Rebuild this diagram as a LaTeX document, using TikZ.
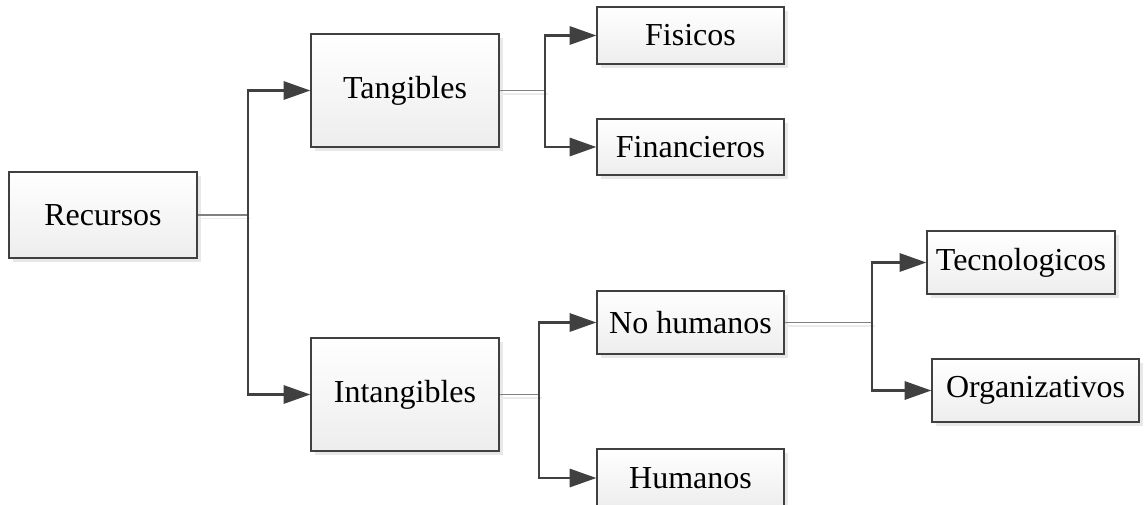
\documentclass[tikz,border=0pt]{standalone}
\usepackage{fontspec}
\setmainfont{Liberation Serif}
\usetikzlibrary{arrows.meta,shadows}
\definecolor{lineDark}{HTML}{404040}
\definecolor{lineGray}{HTML}{808080}
\definecolor{shadowGray}{HTML}{EBEBEB}
\tikzset{
  boxnode/.style={draw=lineDark, line width=0.9pt, top color=white, bottom color=black!7,
    inner sep=0pt, font=\fontsize{24}{28}\selectfont,
    drop shadow={shadow xshift=3pt, shadow yshift=-3pt, fill=black!9, opacity=1}},
  thinline/.style={draw=lineGray, line width=1.1pt},
  thinshadow/.style={draw=shadowGray, line width=1.1pt},
  bigarrow/.style={draw=lineDark, line width=2.2pt, line join=miter,
    -{Triangle[length=20pt,width=13.5pt]}},
}
\begin{document}
\begin{tikzpicture}[x=0.75pt,y=-0.75pt]
\clip (0,0) rectangle (1144,504);
\fill[white] (0,0) rectangle (1144,504);

\node[boxnode, minimum width=141pt, minimum height=64.5pt] (rec) at (103,215) {Recursos};
\node[boxnode, minimum width=141pt, minimum height=84.75pt] (tan) at (405,90.5) {Tangibles};
\node[boxnode, minimum width=141pt, minimum height=84.75pt] (int) at (405,394.5) {Intangibles};
\node[boxnode, minimum width=140.25pt, minimum height=42.75pt] (fis) at (690.5,35.5) {Fisicos};
\node[boxnode, minimum width=140.25pt, minimum height=42pt] (fin) at (690.5,147) {Financieros};
\node[boxnode, minimum width=140.25pt, minimum height=47.25pt] (noh) at (690.5,322.5) {No humanos};
\node[boxnode, minimum width=140.25pt, minimum height=43.5pt] (hum) at (690.5,478) {Humanos};
\node[boxnode, minimum width=141pt, minimum height=47.25pt] (tec) at (1021,262.5) {Tecnologicos};
\node[boxnode, minimum width=155.25pt, minimum height=47.25pt] (org) at (1035.5,390.5) {Organizativos};

\coordinate (j1) at (248,215);
\coordinate (j2) at (545,90.5);
\coordinate (j3) at (539,394.5);
\coordinate (j4) at (872,322.5);

% thin connectors with faint shadow
\draw[thinshadow] ([yshift=-2.5pt]rec.east) -- ([yshift=-2.5pt,xshift=2pt]j1);
\draw[thinline] (rec.east) -- (j1);
\draw[thinshadow] ([yshift=-2.5pt]tan.east) -- ([yshift=-2.5pt,xshift=2pt]j2);
\draw[thinline] (tan.east) -- (j2);
\draw[thinshadow] ([yshift=-2.5pt]int.east) -- ([yshift=-2.5pt,xshift=2pt]j3);
\draw[thinline] (int.east) -- (j3);
\draw[thinshadow] ([yshift=-2.5pt]noh.east) -- ([yshift=-2.5pt,xshift=2pt]j4);
\draw[thinline] (noh.east) -- (j4);

% thick arrows
\draw[bigarrow] (j1) |- (tan.west);
\draw[bigarrow] (j1) |- (int.west);
\draw[bigarrow] (j2) |- (fis.west);
\draw[bigarrow] (j2) |- (fin.west);
\draw[bigarrow] (j3) |- (noh.west);
\draw[bigarrow] (j3) |- (hum.west);
\draw[bigarrow] (j4) |- (tec.west);
\draw[bigarrow] (j4) |- (org.west);
\end{tikzpicture}
\end{document}
